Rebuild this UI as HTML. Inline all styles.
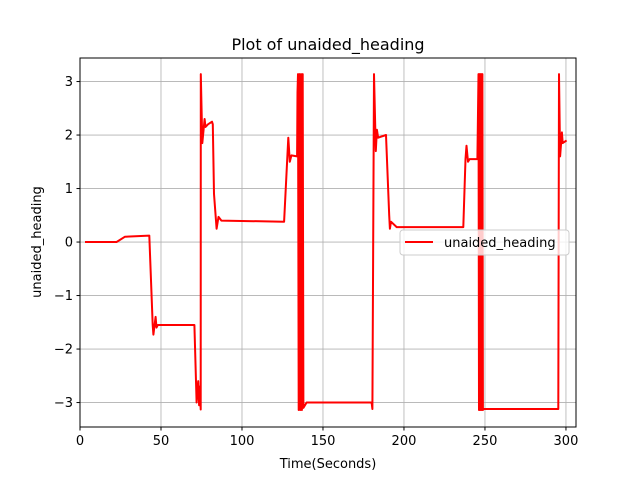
<!DOCTYPE html>
<html><head><meta charset="utf-8"><style>
body{margin:0;background:#fff;}
svg{display:block;font-family:"DejaVu Sans","Liberation Sans",sans-serif;}
</style></head><body>
<svg id="chart" width="640" height="480" viewBox="0 0 640 480">
<rect width="640" height="480" fill="#fff"/>
<text x="328" y="50" font-size="16" text-anchor="middle">Plot of unaided_heading</text>
<g id="grid"></g>
<g id="ticks"></g>
<polyline id="series" fill="none" stroke="#ff0000" stroke-width="2" stroke-linejoin="round"/>
<rect x="80" y="58" width="496" height="369" fill="none" stroke="#000" stroke-width="1"/>
<text x="328" y="468" font-size="13" text-anchor="middle">Time(Seconds)</text>
<text x="41" y="242" font-size="13" text-anchor="middle" transform="rotate(-90 41 242)">unaided_heading</text>
<g>
<rect x="400" y="230" width="169" height="25" rx="3" fill="#fff" fill-opacity="0.8" stroke="#ccc"/>
<line x1="405" y1="242" x2="433" y2="242" stroke="#ff0000" stroke-width="2"/>
<text x="444" y="247" font-size="13">unaided_heading</text>
</g>
</svg>
<script>
const xTicks=[0,50,100,150,200,250,300];
const yTicks=[-3,-2,-1,0,1,2,3];
const times=[3.1,22.6,27.8,42.8,44.9,45.3,46.7,47.2,48,70.6,72,73,73.5,74,74.5,74.6,75.5,76.9,77.5,79,81.5,82,82.7,84.3,85.5,87.3,126,128.6,129.5,130.5,134,134.3,134.6,135,135.5,136,136.5,137,137.5,137.9,139.9,180,180.5,181.5,182.6,183.3,184,188.9,190.9,191.3,192,195.5,236.6,238,238.6,239.5,240.5,245.3,246,246.3,246.6,246.9,247.2,247.5,247.8,248.1,248.4,248.7,249,295.3,295.7,296.4,297.5,298,300.4];
const values=[0,0,0.1,0.12,-1.55,-1.73,-1.4,-1.6,-1.55,-1.55,-3.0,-2.6,-3.05,-2.7,-3.13,3.14,1.85,2.3,2.15,2.2,2.25,2.2,0.9,0.25,0.47,0.4,0.38,1.95,1.5,1.62,1.6,2.8,3.14,-3.14,3.14,-3.14,3.14,-3.14,3.14,-3.1,-3.0,-3.0,-3.12,3.14,1.7,2.1,1.95,2.0,0.5,0.25,0.38,0.28,0.28,1.55,1.8,1.5,1.55,1.55,3.14,-3.14,3.14,-3.14,3.14,-3.14,3.14,-3.14,3.14,-3.14,-3.12,-3.12,3.14,1.6,2.05,1.85,1.9];
const X0=80,X1=576,XMIN=0,XMAX=306.2,Y0=427,Y1=58,YMIN=-3.457,YMAX=3.44;
const sx=t=>X0+(t-XMIN)/(XMAX-XMIN)*(X1-X0);
const sy=v=>Y0-(v-YMIN)/(YMAX-YMIN)*(Y0-Y1);
const NS="http://www.w3.org/2000/svg";
const grid=document.getElementById('grid'),ticks=document.getElementById('ticks');
function mk(tag,attrs,parent){const e=document.createElementNS(NS,tag);for(const k in attrs)e.setAttribute(k,attrs[k]);parent.appendChild(e);return e;}
xTicks.forEach(t=>{const x=sx(t);
 const g=mk('line',{x1:x,x2:x,y1:Y1,y2:Y0,stroke:'#b0b0b0','stroke-width':0.8},grid);
 
 
 const k=mk('line',{x1:x,x2:x,y1:Y0,y2:Y0+3.5,stroke:'#000'},ticks);
 
 
 const l=mk('text',{x:x,y:Y0+18,'font-size':13,'text-anchor':'middle'},ticks);l.textContent=t;
 
 
});
yTicks.forEach(v=>{const y=sy(v);
 const g=mk('line',{x1:X0,x2:X1,y1:y,y2:y,stroke:'#b0b0b0','stroke-width':0.8},grid);
 
 
 const k=mk('line',{x1:X0-3.5,x2:X0,y1:y,y2:y,stroke:'#000'},ticks);
 
 
 const l=mk('text',{x:X0-7,y:y+4.5,'font-size':13,'text-anchor':'end'},ticks);l.textContent=(v<0?'\u2212'+(-v):v);
 
 
});
document.getElementById('series').setAttribute('points',times.map((t,i)=>sx(t).toFixed(1)+','+sy(values[i]).toFixed(1)).join(' '));
</script>
</body></html>
